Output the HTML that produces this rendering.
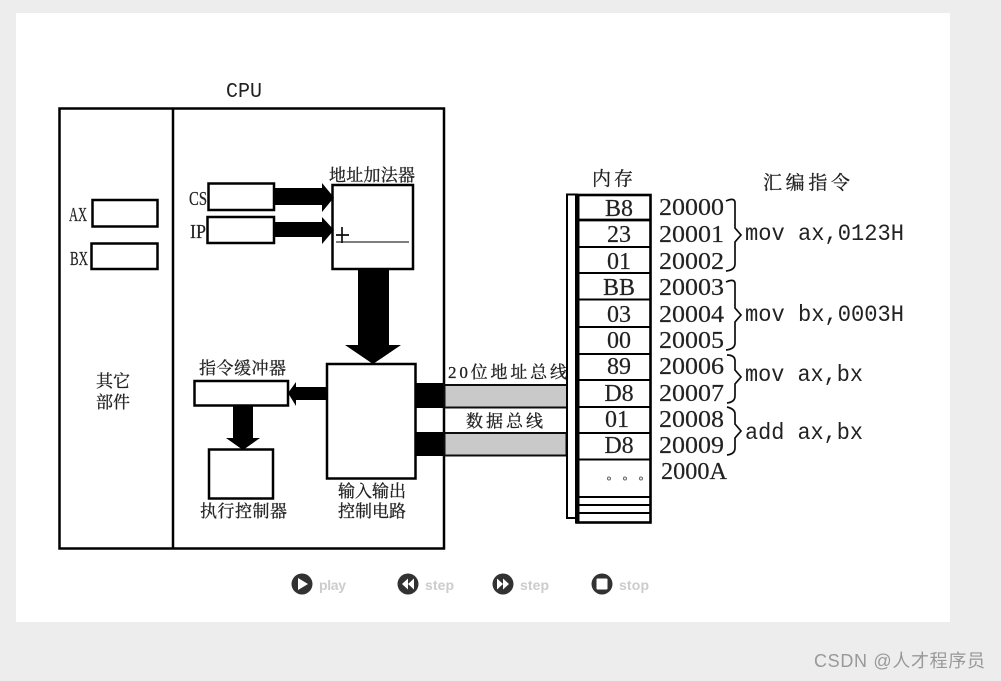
<!DOCTYPE html>
<html><head><meta charset="utf-8"><style>
html,body{margin:0;padding:0;background:#ededed;width:1001px;height:681px;overflow:hidden}
svg{display:block}
.cj{font-family:"Liberation Serif","Noto Serif CJK SC",serif;fill:#222;stroke:#222;stroke-width:.3}
.se{font-family:"Liberation Serif",serif;fill:#222;stroke:#222;stroke-width:.2}
.mo{font-family:"Liberation Mono",monospace;fill:#222}
.sa{font-family:"Liberation Sans",sans-serif;font-weight:bold;fill:#ccc;font-size:14px}
</style></head><body>
<svg width="1001" height="681" viewBox="0 0 1001 681" xmlns="http://www.w3.org/2000/svg">
<defs><filter id="b" x="-2%" y="-2%" width="104%" height="104%"><feGaussianBlur stdDeviation="0.35"/></filter></defs>
<rect width="1001" height="681" fill="#ededed"/>
<rect x="16" y="13" width="934" height="609" fill="#fff"/>
<g filter="url(#b)">
<g fill="none" stroke="#000" stroke-width="2.5">
<rect x="59.5" y="108.5" width="384.5" height="440"/>
<line x1="173" y1="108" x2="173" y2="548"/>
<rect x="92.5" y="200" width="65" height="26.5"/>
<rect x="91.5" y="243.5" width="66" height="25.5"/>
<rect x="208.5" y="183.5" width="65.5" height="26.5"/>
<rect x="207.5" y="217" width="66.5" height="26"/>
<rect x="332.5" y="185" width="80.5" height="84"/>
<rect x="327" y="364" width="88.5" height="114.5"/>
<rect x="194.5" y="381" width="93.5" height="24.5"/>
<rect x="209" y="449.5" width="64" height="49"/>
</g>
<line x1="336" y1="242" x2="409" y2="242" stroke="#333" stroke-width="1.2"/>
<path d="M342 227V243M336 235H349" stroke="#111" stroke-width="1.7" fill="none"/>
<g fill="#000">
<path d="M275 188H322V183L334 197.5L322 212V205H275Z"/>
<path d="M275 222H322V217L334 230L322 244V237H275Z"/>
<path d="M358 270H389V345H401L373 364L345 345H358Z"/>
<path d="M327 387H296V382L288 393L296 406V400H327Z"/>
<path d="M233 406H253V438H260L243 450L226 438H233Z"/>
<rect x="416" y="383" width="28" height="25"/>
<rect x="416" y="432" width="28" height="24"/>
</g>
<rect x="444.5" y="385" width="122.5" height="22.5" fill="#c9c9c9" stroke="#111" stroke-width="2"/>
<rect x="444.5" y="433" width="122" height="22.5" fill="#c9c9c9" stroke="#111" stroke-width="2"/>
<rect x="567" y="194.5" width="10" height="323.5" fill="#fff" stroke="#000" stroke-width="2"/>
<rect x="577" y="195" width="73.5" height="327.5" fill="#fff" stroke="#000" stroke-width="2.6"/>
<rect x="575" y="194" width="4.5" height="329.5" fill="#000"/>
<g stroke="#000" stroke-width="2">
<line x1="577" y1="220" x2="651" y2="220" stroke-width="2.8"/>
<line x1="577" y1="247" x2="651" y2="247"/>
<line x1="577" y1="273" x2="651" y2="273"/>
<line x1="577" y1="299.5" x2="651" y2="299.5"/>
<line x1="577" y1="327" x2="651" y2="327"/>
<line x1="577" y1="354" x2="651" y2="354"/>
<line x1="577" y1="380" x2="651" y2="380"/>
<line x1="577" y1="407" x2="651" y2="407"/>
<line x1="577" y1="433" x2="651" y2="433"/>
<line x1="577" y1="459.5" x2="651" y2="459.5"/>
<line x1="577" y1="497" x2="651" y2="497"/>
<line x1="577" y1="505" x2="651" y2="505"/>
<line x1="577" y1="513" x2="651" y2="513"/>
</g>
<g fill="none" stroke="#666" stroke-width="1"><circle cx="609" cy="478.5" r="1.5"/><circle cx="625" cy="478.5" r="1.5"/><circle cx="641" cy="478.5" r="1.5"/></g>
<g fill="none" stroke="#111" stroke-width="1.7">
<path d="M726 201Q735 197 735 203V228L741 235L735 242V264Q735 270 726 271"/>
<path d="M726 282Q735 278 735 284V308L741 315L735 322V343Q735 349 726 350"/>
<path d="M727 355Q735 355 735 361V370L741 377L735 384V396Q735 402 727 403"/>
<path d="M727 407Q735 409 735 414V424L741 431L735 438V448Q735 454 727 455"/>
</g>
<text class="mo" x="226" y="97" font-size="21" textLength="36" lengthAdjust="spacingAndGlyphs">CPU</text>
<g class="se" font-size="20">
<text x="69" y="221" textLength="18" lengthAdjust="spacingAndGlyphs">AX</text>
<text x="70" y="265" textLength="18" lengthAdjust="spacingAndGlyphs">BX</text>
<text x="189" y="205" textLength="18" lengthAdjust="spacingAndGlyphs">CS</text>
<text x="190" y="238" textLength="16" lengthAdjust="spacingAndGlyphs">IP</text>
</g>
<g class="cj" font-size="17">
<text x="329" y="181" textLength="86">地址加法器</text>
<text x="96" y="387" textLength="34">其它</text>
<text x="96" y="408" textLength="34">部件</text>
<text x="199" y="374" textLength="87">指令缓冲器</text>
<text x="338" y="497" textLength="68">输入输出</text>
<text x="338" y="517" textLength="68">控制电路</text>
<text x="200" y="517" textLength="87">执行控制器</text>
<text x="448" y="378" textLength="119" font-size="17">20位地址总线</text>
<text x="466" y="427" textLength="77" font-size="17">数据总线</text>
<text x="592" y="185" textLength="41" font-size="19">内存</text>
<text x="763" y="189" textLength="87" font-size="19">汇编指令</text>
</g>
<g class="se" font-size="24" text-anchor="middle">
<text x="619" y="216">B8</text>
<text x="619" y="242">23</text>
<text x="619" y="269">01</text>
<text x="619" y="295">BB</text>
<text x="619" y="322">03</text>
<text x="619" y="348">00</text>
<text x="619" y="374">89</text>
<text x="619" y="401">D8</text>
<text x="617" y="427">01</text>
<text x="619" y="453">D8</text>
</g>
<g class="se" font-size="24">
<text x="659" y="215" textLength="65" lengthAdjust="spacingAndGlyphs">20000</text>
<text x="659" y="242" textLength="65" lengthAdjust="spacingAndGlyphs">20001</text>
<text x="659" y="269" textLength="65" lengthAdjust="spacingAndGlyphs">20002</text>
<text x="659" y="295" textLength="65" lengthAdjust="spacingAndGlyphs">20003</text>
<text x="659" y="322" textLength="65" lengthAdjust="spacingAndGlyphs">20004</text>
<text x="659" y="348" textLength="65" lengthAdjust="spacingAndGlyphs">20005</text>
<text x="659" y="374" textLength="65" lengthAdjust="spacingAndGlyphs">20006</text>
<text x="659" y="401" textLength="65" lengthAdjust="spacingAndGlyphs">20007</text>
<text x="659" y="427" textLength="65" lengthAdjust="spacingAndGlyphs">20008</text>
<text x="659" y="453" textLength="65" lengthAdjust="spacingAndGlyphs">20009</text>
<text x="661" y="479" textLength="66" lengthAdjust="spacingAndGlyphs">2000A</text>
</g>
<g class="mo" font-size="23">
<text x="745" y="240" textLength="159" lengthAdjust="spacingAndGlyphs">mov ax,0123H</text>
<text x="745" y="321" textLength="159" lengthAdjust="spacingAndGlyphs">mov bx,0003H</text>
<text x="745" y="381" textLength="118" lengthAdjust="spacingAndGlyphs">mov ax,bx</text>
<text x="745" y="439" textLength="118" lengthAdjust="spacingAndGlyphs">add ax,bx</text>
</g>
<circle cx="302" cy="584" r="10.5" fill="#333"/><path d="M298 578L308 584L298 590Z" fill="#fff"/>
<circle cx="408" cy="584" r="10.5" fill="#333"/><path d="M408 578.5L402 584L408 589.5ZM414 578.5L408 584L414 589.5Z" fill="#fff"/>
<circle cx="503" cy="584" r="10.5" fill="#333"/><path d="M497 578.5L503 584L497 589.5ZM503 578.5L509 584L503 589.5Z" fill="#fff"/>
<circle cx="602" cy="584" r="10.5" fill="#333"/><rect x="596.5" y="578.5" width="11" height="11" rx="1" fill="#fff"/>
<text class="sa" x="319" y="590" textLength="27">play</text>
<text class="sa" x="425" y="590" textLength="29">step</text>
<text class="sa" x="520" y="590" textLength="29">step</text>
<text class="sa" x="619" y="590" textLength="30">stop</text>
<text x="814" y="667" font-size="18" textLength="171" fill="#999" font-family="'Liberation Sans','Noto Sans CJK SC',sans-serif">CSDN @人才程序员</text>
</g>
</svg>
</body></html>
